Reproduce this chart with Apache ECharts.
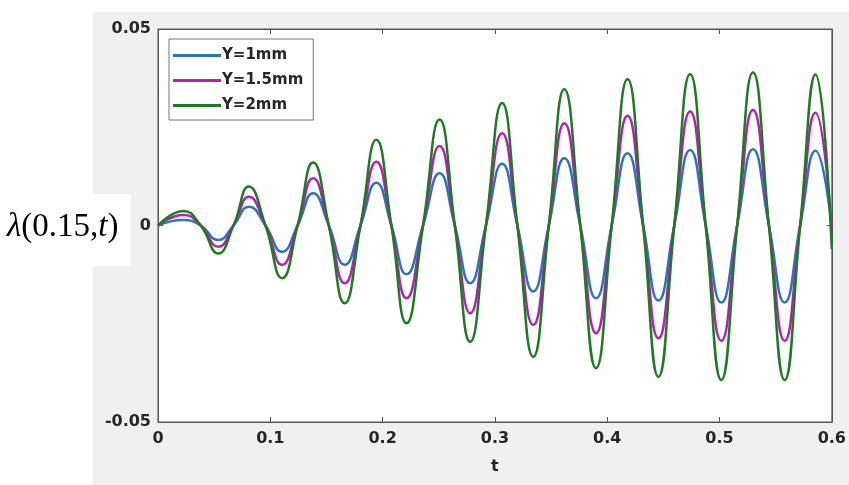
<!DOCTYPE html>
<html>
<head>
<meta charset="utf-8">
<script src="https://cdn.jsdelivr.net/npm/echarts@6/dist/echarts.min.js"></script>
<style>html,body{margin:0;padding:0;background:#fff}#c{width:849px;height:485px}</style>
</head>
<body>
<div id="c"></div>
<script>
// Data (t, lambda) at start, peaks, troughs and zero crossings
const seriesNames = ['Y=1mm', 'Y=1.5mm', 'Y=2mm'];
const tPoints = [0, 0.0225, 0.038, 0.0536, 0.0672, 0.0809, 0.0957, 0.1105, 0.1243, 0.1381, 0.1521,
  0.1662, 0.1803, 0.1944, 0.2078, 0.2213, 0.236, 0.2507, 0.2643, 0.278, 0.292, 0.3064, 0.320,
  0.3341, 0.348, 0.3618, 0.376, 0.390, 0.404, 0.4181, 0.432, 0.4456, 0.4597, 0.4738, 0.4877,
  0.5016, 0.5157, 0.5298, 0.544, 0.558, 0.5718, 0.5855, 0.6];
const y1mm = [0, 0.0014, 0, -0.0037, 0, 0.0048, 0, -0.0067, 0, 0.0082, 0,
  -0.0100, 0, 0.0109, 0, -0.0124, 0, 0.0133, 0, -0.0147, 0, 0.0157, 0,
  -0.0168, 0, 0.0171, 0, -0.0185, 0, 0.0184, 0, -0.0191, 0, 0.0192, 0,
  -0.0196, 0, 0.0194, 0, -0.0196, 0, 0.0190, -0.0005];
const y15mm = [0, 0.0027, 0, -0.0054, 0, 0.0073, 0, -0.0100, 0, 0.0120, 0,
  -0.0147, 0, 0.0162, 0, -0.0185, 0, 0.0202, 0, -0.0223, 0, 0.0235, 0,
  -0.0253, 0, 0.0260, 0, -0.0274, 0, 0.0279, 0, -0.0287, 0, 0.0290, 0,
  -0.0293, 0, 0.0294, 0, -0.0293, 0, 0.0287, -0.0010];
const y2mm = [0, 0.0037, 0, -0.0071, 0, 0.0099, 0, -0.0134, 0, 0.0160, 0,
  -0.0198, 0, 0.0218, 0, -0.0249, 0, 0.0270, 0, -0.0296, 0, 0.0312, 0,
  -0.0334, 0, 0.0347, 0, -0.0363, 0, 0.0372, 0, -0.0385, 0, 0.0385, 0,
  -0.0393, 0, 0.0389, 0, -0.0393, 0, 0.0384, -0.0060];
const xTicks = [0, 0.1, 0.2, 0.3, 0.4, 0.5, 0.6];
const yTicks = [-0.05, 0, 0.05];
const colors = ['#2a77b8', '#b41fb4', '#1f7a22'];

const values = [y1mm, y15mm, y2mm];
const chart = echarts.init(document.getElementById('c'), null, {renderer: 'canvas'});
const txt = '#262626';
const font = 'DejaVu Sans, Arial';
const axisCommon = {
  axisLine: {show: true, onZero: false, lineStyle: {color: '#555', width: 1}},
  splitLine: {show: false}
};
chart.setOption({
  backgroundColor: '#f0f0f0',
  animation: false,
  grid: {left: 158, right: 16, top: 29, bottom: 63, show: true, backgroundColor: '#fff', borderColor: '#555', borderWidth: 1},
  legend: {
    orient: 'vertical', left: 169, top: 39,
    data: seriesNames.map(n => ({name: n, icon: 'rect'})),
    itemWidth: 48, itemHeight: 3, itemGap: 10,
    backgroundColor: '#fff', borderColor: '#777', borderWidth: 1,
    padding: [9, 10, 7, 4],
    textStyle: {fontFamily: font, fontWeight: 'bold', fontSize: 15, color: txt, padding: [0,0,0,-4]}
  },
  xAxis: [{
    type: 'value', min: xTicks[0], max: xTicks[xTicks.length - 1], interval: 0.1,
    position: 'bottom',
    name: 't', nameLocation: 'middle', nameGap: 37,
    nameTextStyle: {fontFamily: font, fontWeight: 'bold', fontSize: 16, color: txt},
    axisTick: {show: true, inside: true, length: 5, lineStyle: {color: '#555'}},
    axisLabel: {fontFamily: font, fontWeight: 'bold', fontSize: 16, color: txt, margin: 9,
      formatter: v => String(Math.round(v * 10) / 10)},
    ...axisCommon
  }, {
    type: 'value', min: 0, max: 0.6, interval: 0.1, position: 'top',
    axisTick: {show: true, inside: true, length: 5, lineStyle: {color: '#555'}},
    axisLabel: {show: false}, ...axisCommon
  }],
  yAxis: [{
    type: 'value', min: yTicks[0], max: yTicks[yTicks.length - 1], interval: 0.05,
    axisTick: {show: true, inside: true, length: 5, lineStyle: {color: '#555'}},
    axisLabel: {fontFamily: font, fontWeight: 'bold', fontSize: 16, color: txt, margin: 7,
      formatter: v => (Math.abs(v) < 1e-9 ? '0' : String(Math.round(v * 100) / 100))},
    ...axisCommon
  }, {
    type: 'value', min: -0.05, max: 0.05, interval: 0.05, position: 'right',
    axisTick: {show: true, inside: true, length: 5, lineStyle: {color: '#555'}},
    axisLabel: {show: false}, ...axisCommon
  }],
  graphic: [
    {type: 'rect', shape: {x: 0, y: 0, width: 93, height: 485}, style: {fill: '#fff'}, silent: true},
    {type: 'rect', shape: {x: 0, y: 0, width: 849, height: 12}, style: {fill: '#fff'}, silent: true},
    {type: 'rect', shape: {x: 0, y: 194, width: 131, height: 72}, style: {fill: '#fff'}, silent: true},
    {type: 'text', left: 7, top: 211,
      style: {
        text: '{i|λ}{n|(0.15,}{i|t}{n|)}',
        rich: {
          i: {fontFamily: 'Liberation Serif, Times New Roman', fontStyle: 'italic', fontSize: 33, fill: '#000'},
          n: {fontFamily: 'Liberation Serif, Times New Roman', fontSize: 33, fill: '#000'}
        }
      }}
  ],
  series: seriesNames.map((n, k) => ({
    name: n, type: 'line', xAxisIndex: 0, yAxisIndex: 0,
    data: tPoints.map((t, i) => [t, values[k][i]]),
    smooth: 0.5, showSymbol: false, symbol: 'none',
    lineStyle: {color: colors[k], width: 2.5},
    itemStyle: {color: colors[k]},
    z: 2 + k
  }))
});
</script>
</body>
</html>
